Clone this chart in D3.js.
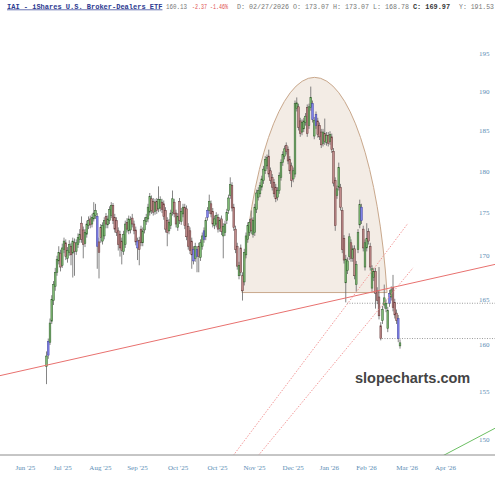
<!DOCTYPE html>
<html>
<head>
<meta charset="utf-8">
<script src="https://cdn.jsdelivr.net/npm/d3@7"></script>
<style>
  body { margin: 0; background: #fff; }
  svg { display: block; }
</style>
</head>
<body>
<div id="chart"></div>
<script>
// IAI daily candles (index = trading day)
const opens = [
  157.6,158.8,160.2,162.5,164.8,166.4,168.0,169.3,170.2,168.8,
  170.6,171.4,169.6,170.3,171.0,170.2,171.4,170.4,171.2,171.8,
  173.7,172.9,171.3,172.4,173.4,174.2,173.6,174.2,174.6,174.5,
  171.5,173.2,171.6,172.2,174.5,173.5,174.0,174.6,175.8,174.4,
  174.0,172.8,172.4,171.6,170.4,171.2,173.8,172.8,172.9,174.3,
  173.6,172.9,171.6,171.7,173.0,171.4,172.9,173.9,174.2,175.0,
  176.6,176.3,175.1,176.3,175.4,175.5,176.2,176.0,175.2,174.0,
  172.8,173.4,175.0,176.2,174.9,173.2,176.3,173.9,174.8,175.6,
  175.4,173.3,172.8,171.6,170.6,169.6,170.6,171.0,169.7,171.0,
  172.8,172.1,174.4,175.2,176.0,175.1,173.4,173.6,174.4,173.1,
  174.2,172.2,172.6,174.0,175.2,177.0,178.2,175.6,173.0,171.0,
  167.6,170.8,167.6,166.9,170.0,171.8,172.6,174.2,172.4,172.6,
  175.3,176.8,177.2,178.0,178.8,180.0,180.6,181.8,180.0,179.2,
  178.6,178.0,176.8,177.6,179.2,181.0,181.8,183.1,182.6,181.4,
  180.6,179.0,179.6,187.8,188.0,186.2,184.8,185.2,186.0,187.9,
  185.6,187.9,188.4,184.3,187.0,186.2,185.6,184.8,183.4,184.6,
  183.5,184.4,183.6,184.2,182.4,178.8,177.0,178.0,178.0,175.2,
  171.9,166.8,168.2,169.8,171.4,169.6,170.7,166.6,170.6,173.5,
  175.6,173.0,168.6,170.8,172.7,171.0,166.2,167.4,168.1,165.9,
  165.2,162.0,162.6,164.3,163.9,161.7,165.6,165.2,166.3,164.6,
  163.4,162.8,159.8
];
const highs = [
  159.2,160.6,162.8,165.4,167.0,168.5,169.9,171.0,170.6,171.3,
  172.0,171.8,170.9,171.7,171.4,172.0,171.9,171.8,172.5,173.0,
  174.5,173.3,173.0,174.0,174.5,174.6,174.8,176.2,176.0,174.9,
  172.0,173.6,173.8,174.4,174.9,174.6,175.7,176.2,176.1,174.8,
  174.4,173.2,172.8,172.0,172.8,174.0,174.3,174.6,174.5,174.8,
  174.0,173.3,172.0,172.1,173.4,173.2,174.4,174.8,176.0,177.3,
  177.0,176.7,176.6,176.7,178.1,176.9,176.6,176.4,175.6,174.4,
  174.2,175.3,177.6,176.6,175.3,174.9,176.7,175.5,176.0,176.0,
  175.8,173.7,173.2,172.0,171.0,171.4,171.0,171.4,171.8,172.6,
  173.2,174.4,175.6,177.1,176.4,175.5,174.6,175.0,174.8,174.4,
  174.6,173.7,174.0,175.4,177.1,179.2,178.6,176.0,173.4,171.4,
  169.2,171.2,168.0,170.7,172.6,173.8,174.2,175.2,174.4,176.0,
  177.7,178.0,178.6,179.4,180.6,181.8,182.0,182.6,180.4,179.6,
  179.0,178.4,178.0,179.8,181.4,182.4,183.1,183.5,183.0,181.8,
  181.0,180.4,188.8,189.2,188.4,186.6,186.4,186.6,187.2,188.3,
  188.4,190.6,188.8,186.7,187.4,186.6,186.0,185.2,185.2,186.5,
  184.8,184.8,184.9,184.6,182.8,179.2,178.2,181.0,178.4,175.6,
  172.3,170.0,169.7,172.5,171.8,171.1,171.1,169.3,173.0,176.5,
  176.0,173.4,171.8,173.7,173.1,171.4,168.8,168.5,168.5,166.3,
  168.6,162.4,164.2,166.6,164.9,164.1,166.0,166.4,167.7,165.0,
  163.8,163.2,160.5
];
const lows = [
  155.7,158.4,159.9,162.2,164.3,165.9,167.6,168.9,168.1,168.5,
  170.2,169.4,169.1,169.9,168.8,167.4,167.6,170.0,170.8,171.4,
  171.4,169.6,170.9,172.0,173.0,173.1,173.2,173.9,174.2,168.4,
  167.3,171.4,171.2,171.8,173.1,173.1,173.6,174.3,173.6,172.6,
  172.2,170.5,169.8,168.9,170.0,170.8,172.6,172.4,172.5,173.2,
  172.4,171.1,169.4,168.8,171.0,171.0,172.5,173.5,173.8,174.6,
  174.8,174.6,174.7,174.8,175.0,175.1,174.9,174.1,172.6,171.0,
  172.4,173.0,174.6,174.4,173.2,172.8,173.6,173.5,174.4,173.0,
  171.7,170.6,170.1,168.4,168.9,169.2,168.0,168.0,169.3,170.6,
  171.4,171.7,174.0,174.8,174.4,173.2,173.0,173.2,172.6,172.7,
  172.3,169.6,172.2,173.6,174.8,176.6,175.1,172.8,170.2,168.3,
  167.2,167.6,164.8,166.5,169.6,171.4,172.2,172.4,172.0,172.2,
  174.9,176.4,176.8,177.6,178.4,179.6,180.2,179.2,178.4,177.6,
  176.8,176.2,176.4,177.2,178.8,180.6,181.4,182.0,180.8,179.6,
  178.0,178.6,179.2,187.4,185.0,184.2,184.4,184.8,185.6,184.2,
  185.2,187.5,186.0,183.9,185.2,184.1,183.8,182.8,183.0,183.2,
  183.1,183.0,183.2,182.2,178.1,172.8,176.6,177.6,175.2,170.2,
  169.0,164.6,167.8,169.4,169.2,169.2,167.2,165.8,170.2,173.1,
  173.6,170.4,168.2,170.4,171.2,168.2,165.8,167.0,163.9,164.4,
  162.7,160.4,162.2,163.9,163.5,161.3,164.1,164.8,163.6,162.8,
  162.2,160.2,159.5
];
const closes = [
  158.7,160.3,162.3,164.9,166.6,168.0,169.5,170.3,168.6,170.8,
  171.6,169.8,170.5,171.2,170.0,171.6,170.4,171.4,172.0,172.4,
  171.8,171.2,172.6,173.6,174.0,173.5,174.4,174.9,175.2,171.0,
  170.3,172.0,173.4,174.0,173.6,174.2,175.3,175.8,174.0,173.0,
  172.6,171.2,170.8,170.5,172.4,173.6,173.0,174.2,174.1,173.6,
  172.8,171.5,170.8,170.6,171.4,172.8,174.0,174.4,175.6,176.9,
  175.2,175.0,176.2,175.2,176.5,176.5,175.3,174.5,173.0,172.6,
  173.8,174.9,176.6,174.8,173.6,174.5,174.0,175.1,175.6,173.4,
  172.1,171.0,170.5,170.0,169.3,171.0,169.8,169.8,171.4,172.2,
  171.8,174.0,175.2,176.3,174.8,173.6,174.2,174.6,173.0,174.0,
  172.7,173.3,173.6,175.0,176.7,178.3,175.5,173.2,170.6,168.7,
  168.8,168.0,165.9,170.3,172.2,173.4,173.8,172.8,174.0,175.6,
  177.3,177.6,178.2,179.0,180.2,181.4,181.6,179.6,178.8,178.0,
  177.2,176.6,177.6,179.4,181.0,182.0,182.7,182.4,181.2,180.0,
  178.8,180.0,188.4,188.5,185.4,184.6,186.0,186.2,186.8,184.6,
  188.0,189.2,186.4,186.3,185.6,184.5,184.2,183.2,184.8,183.6,
  184.4,183.4,184.5,182.6,178.5,173.4,177.8,180.4,175.6,170.6,
  169.4,169.5,169.3,172.1,169.6,170.7,167.6,168.9,172.6,175.9,
  174.0,170.8,171.4,171.9,171.6,168.6,168.4,168.1,165.6,164.8,
  163.1,160.6,163.8,165.1,164.5,163.7,164.5,166.0,164.0,163.2,
  162.6,160.6,160.13
];
const blueIdx = [1, 29, 52, 84, 86, 90, 92, 152, 154, 180, 196, 201];

// axis ticks
const yTicks = [150, 155, 160, 165, 170, 175, 180, 185, 190, 195];
const xTickPos = [-12.3, 8.9, 30.5, 51.7, 74.9, 97.4, 118.6, 140.7, 161.4, 182.5, 205.8, 227.7];
const xTickLabels = ["Jun '25", "Jul '25", "Aug '25", "Sep '25", "Oct '25", "Oct '25",
                     "Nov '25", "Dec '25", "Jan '26", "Feb '26", "Mar '26", "Apr '26"];

// drawn annotations, as [index, price] end points
const trendLine = [[-26.6, 156.6], [256.3, 168.9]];
const channelUpper = [[106.6, 148.3], [206.6, 173.7]];
const channelLower = [[120.9, 148.3], [209.4, 168.5]];
const greenLine = [[225.4, 148.2], [256.3, 151.1]];
const levelLines = [[171.7, 164.5], [191.7, 160.6]];
const dome = [111.7, 194.6, 165.7, 191.8]; // from, to, base price, top price

const W = 495, H = 480;
const plotBottom = 455;

const svg = d3.select('#chart').append('svg')
    .attr('width', W)
    .attr('height', H);

svg.append('defs').append('clipPath')
    .attr('id', 'plot-clip')
    .append('rect')
    .attr('x', 0).attr('y', 12)
    .attr('width', W).attr('height', plotBottom - 12);

const x = d3.scaleLinear()
    .domain([0, closes.length - 1])
    .range([46.5, 400]);

const y = d3.scaleLog()
    .domain([150, 195])
    .range([439, 53]);

const plot = svg.append('g').attr('clip-path', 'url(#plot-clip)');

// dome (half ellipse with centre below its base)
(function drawDome() {
    const xL = x(dome[0]), xR = x(dome[1]);
    const yB = y(dome[2]), yT = y(dome[3]);
    const h = yB - yT;
    const depth = 0.32 * h;
    const ry = h + depth;
    const hw = (xR - xL) / 2;
    const rx = hw / Math.sqrt(1 - (depth / ry) * (depth / ry));
    plot.append('path')
        .attr('d', `M${xL},${yB} A${rx},${ry} 0 0 1 ${xR},${yB} Z`)
        .attr('fill', '#f3ece5')
        .attr('stroke', '#c9a88c')
        .attr('stroke-width', 1);
})();

const line = d3.line()
    .x(d => x(d[0]))
    .y(d => y(d[1]));

// gray dotted price levels
levelLines.forEach(l => {
    plot.append('line')
        .attr('x1', x(l[0])).attr('x2', W)
        .attr('y1', y(l[1])).attr('y2', y(l[1]))
        .attr('stroke', '#9a9a9a')
        .attr('stroke-width', 1)
        .attr('stroke-dasharray', '1,1.5');
});

// candles
const candles = d3.range(closes.length).map(i => ({
    i: i, o: opens[i], h: highs[i], l: lows[i], c: closes[i],
    blue: blueIdx.includes(i)
}));

const bodyW = 1.7;
const fillColor = d => d.blue ? '#7f80ea' : (d.c >= d.o ? '#7fba74' : '#c08a8a');
const edgeColor = d => d.blue ? '#3e40a0' : (d.c >= d.o ? '#2f5a2a' : '#5e3434');

plot.selectAll('.wick')
    .data(candles)
    .enter().append('line')
    .attr('class', 'wick')
    .attr('x1', d => x(d.i)).attr('x2', d => x(d.i))
    .attr('y1', d => y(d.h)).attr('y2', d => y(d.l))
    .attr('stroke', '#666')
    .attr('stroke-width', 0.8);

plot.selectAll('.body')
    .data(candles)
    .enter().append('rect')
    .attr('class', 'body')
    .attr('x', d => x(d.i) - bodyW / 2)
    .attr('width', bodyW)
    .attr('y', d => y(Math.max(d.o, d.c)))
    .attr('height', d => Math.max(0.8, y(Math.min(d.o, d.c)) - y(Math.max(d.o, d.c))))
    .attr('fill', fillColor)
    .attr('stroke', edgeColor)
    .attr('stroke-width', 0.5);

// trend lines
plot.append('path').datum(trendLine)
    .attr('d', line).attr('fill', 'none')
    .attr('stroke', '#e8716f').attr('stroke-width', 1);

[channelUpper, channelLower].forEach(c => {
    plot.append('path').datum(c)
        .attr('d', line).attr('fill', 'none')
        .attr('stroke', '#f08c8c').attr('stroke-width', 0.9)
        .attr('stroke-dasharray', '1.5,1.5');
});

plot.append('path').datum(greenLine)
    .attr('d', line).attr('fill', 'none')
    .attr('stroke', '#6cbf63').attr('stroke-width', 1);

// bottom axis line across the full width
svg.append('line')
    .attr('x1', 0).attr('x2', W)
    .attr('y1', plotBottom).attr('y2', plotBottom)
    .attr('stroke', '#8c8c8c')
    .attr('stroke-width', 1);

const xAxis = d3.axisBottom(x)
    .tickValues(xTickPos)
    .tickFormat((d, i) => xTickLabels[i])
    .tickSize(0)
    .tickPadding(10.5);

const xAxisGroup = svg.append('g')
    .attr('transform', `translate(0,${plotBottom})`)
    .call(xAxis);
xAxisGroup.select('.domain').remove();
xAxisGroup.selectAll('text')
    .attr('fill', '#5a8db5')
    .style('font-family', '"Liberation Serif", serif')
    .style('font-size', '7px');

const yAxis = d3.axisRight(y)
    .tickValues(yTicks)
    .tickFormat(d3.format('d'))
    .tickSize(0)
    .tickPadding(0);

const yAxisGroup = svg.append('g')
    .attr('transform', 'translate(479,0)')
    .call(yAxis);
yAxisGroup.select('.domain').remove();
yAxisGroup.selectAll('text')
    .attr('fill', '#5a8db5')
    .style('font-family', '"Liberation Serif", serif')
    .style('font-size', '7px');

// watermark
svg.append('text')
    .attr('x', 355)
    .attr('y', 383)
    .style('font-family', '"Liberation Sans", Arial, sans-serif')
    .style('font-weight', 'bold')
    .style('font-size', '14.5px')
    .attr('fill', '#444')
    .text('slopecharts.com');

// header line, pieces placed where the reference shows them
const mono = '"Liberation Mono", monospace';
function headerText(xPos, str, color, opts) {
    const t = svg.append('text')
        .attr('x', xPos)
        .attr('y', 8.5)
        .attr('fill', color)
        .style('font-family', mono)
        .style('font-size', (opts.size || 6.7) + 'px')
        .text(str);
    if (opts.bold) t.style('font-weight', 'bold');
    if (opts.underline) t.style('text-decoration', 'underline');
    if (opts.len) t.attr('textLength', opts.len).attr('lengthAdjust', 'spacingAndGlyphs');
    return t;
}
headerText(7, 'IAI - iShares U.S. Broker-Dealers ETF', '#2b3990', { size: 7, bold: true, underline: true });
headerText(166, '160.13', '#777', { len: 21 });
headerText(192, '-2.37 -1.46%', '#e0504f', { len: 36 });
headerText(237, 'D: 02/27/2026 O: 173.07 H: 173.07 L: 168.78', '#777', { len: 172 });
headerText(413, 'C: 169.97', '#333', { bold: true, len: 37 });
headerText(459, 'Y: 191.53', '#777', { len: 35 });
</script>
</body>
</html>
